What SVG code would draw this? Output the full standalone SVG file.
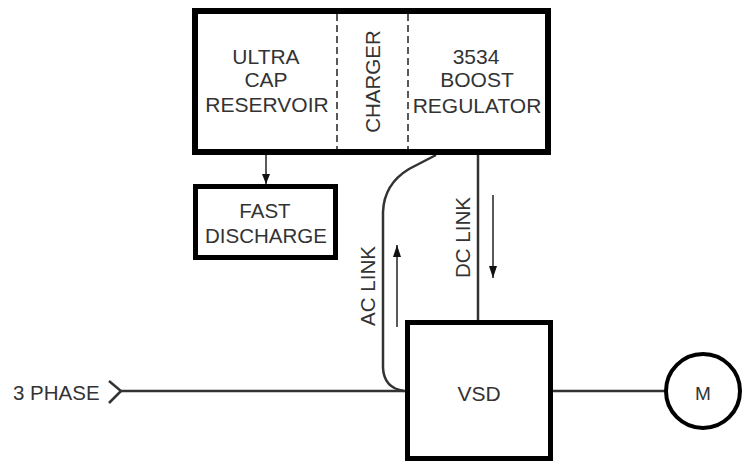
<svg xmlns="http://www.w3.org/2000/svg" width="749" height="463" viewBox="0 0 749 463">
<style>
.box{fill:#fff;stroke:#000;stroke-width:6}
.t{font-family:"Liberation Sans",Arial,sans-serif;font-size:20.5px;fill:#333;text-anchor:middle}
.dash{stroke:#222;stroke-width:1.5;stroke-dasharray:7 4;fill:none}
.wire{stroke:#333;stroke-width:2.5;fill:none}
.thin{stroke:#222;stroke-width:1.5;fill:none}
</style>
<defs>
<marker id="ah" viewBox="0 0 10 10" refX="10" refY="5" markerWidth="10" markerHeight="10" markerUnits="userSpaceOnUse" orient="auto">
<path d="M0,1 L10,5 L0,9 Z" fill="#111"/>
</marker>
<marker id="ah2" viewBox="0 0 12 8" refX="12" refY="4" markerWidth="12" markerHeight="8" markerUnits="userSpaceOnUse" orient="auto">
<path d="M0,0 L12,4 L0,8 Z" fill="#111"/>
</marker>
</defs>
<rect width="749" height="463" fill="#fff"/>
<g id="connectors">
<line class="thin" x1="266" y1="155" x2="266" y2="184" marker-end="url(#ah)"/>
<line class="wire" x1="478" y1="155" x2="478" y2="320"/>
<path class="wire" d="M436,155 L409,169 Q384,184 383,212 L383,368 Q384,388 404,391"/>
<path class="wire" d="M109,381 L121,391 L109,403"/>
<line class="wire" x1="121" y1="391" x2="405" y2="391"/>
<line class="wire" x1="553" y1="391" x2="666" y2="391"/>
<line class="thin" x1="493" y1="195" x2="493" y2="278" marker-end="url(#ah2)"/>
<line class="thin" x1="397" y1="327" x2="397" y2="245" marker-end="url(#ah2)"/>
<text class="t" transform="translate(470,237.5) rotate(-90)">DC LINK</text>
<text class="t" transform="translate(375,286) rotate(-90)">AC LINK</text>
<text class="t" x="13" y="400" style="text-anchor:start">3 PHASE</text>
</g>
<g id="top-block">
<rect class="box" x="195" y="11" width="353" height="141"/>
<line class="dash" x1="337" y1="14" x2="337" y2="149"/>
<line class="dash" x1="408" y1="14" x2="408" y2="149"/>
</g>
<g id="ultracap">
<text class="t" x="266" y="64" style="font-size:21px">ULTRA</text>
<text class="t" x="266" y="87" style="font-size:21px">CAP</text>
<text class="t" x="267" y="112" style="font-size:21px">RESERVOIR</text>
</g>
<g id="charger">
<text class="t" transform="translate(380,81.5) rotate(-90)">CHARGER</text>
</g>
<g id="boost">
<text class="t" x="476" y="64" style="font-size:21px">3534</text>
<text class="t" x="477" y="87" style="font-size:21px">BOOST</text>
<text class="t" x="477" y="113" style="font-size:21px">REGULATOR</text>
</g>
<g id="fast-discharge">
<rect class="box" x="195.5" y="186.5" width="140" height="71" style="stroke-width:5"/>
<text class="t" x="265" y="218">FAST</text>
<text class="t" x="266" y="243">DISCHARGE</text>
</g>
<g id="vsd">
<rect class="box" x="407.5" y="322.5" width="143" height="136" style="stroke-width:5"/>
<text class="t" x="479" y="401" style="font-size:21px">VSD</text>
</g>
<g id="motor">
<circle cx="703" cy="391" r="37" fill="#fff" stroke="#000" stroke-width="4"/>
<text class="t" x="703" y="400" style="font-size:19px">M</text>
</g>
</svg>
